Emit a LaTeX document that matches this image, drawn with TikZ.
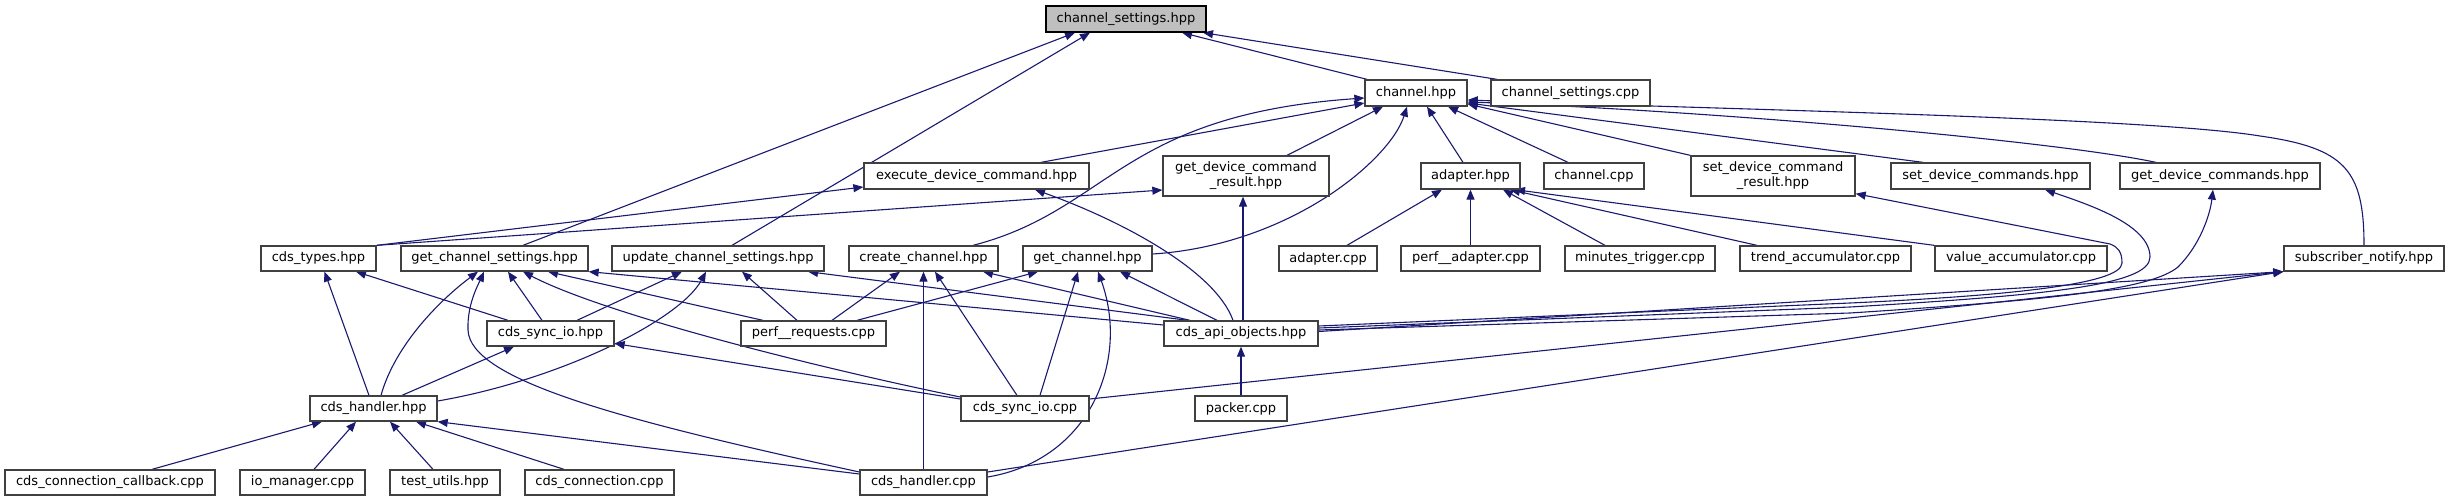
\documentclass[tikz,border=0pt]{standalone}
\usepackage{fontspec}
\setmainfont{DejaVu Sans}
\usetikzlibrary{arrows.meta}
\definecolor{edgeblue}{HTML}{191970}
\definecolor{boxgray}{HTML}{404040}
\definecolor{rootfill}{HTML}{BFBFBF}
\pgfdeclarelayer{bg}
\pgfsetlayers{bg,main}
\tikzset{
  box/.style={draw=boxgray, line width=1.3pt, fill=white, inner sep=0pt, align=center,
    font=\fontsize{13}{15}\selectfont},
  rootbox/.style={box, fill=rootfill, draw=black},
  edge/.style={draw=edgeblue, line width=1.1pt, -{Triangle[length=10pt,width=8pt]}}
}
\newcommand\mkbox[7][box]{\node[#1, minimum width={#5-#3}, minimum height={#6-#4}] (#2) at ({(#3+#5)/2},{(#4+#6)/2}) {#7};}
\begin{document}
\begin{tikzpicture}[x=1pt,y=-1pt]
\useasboundingbox (0,0) rectangle (2449,501);
% nodes
\mkbox[rootbox]{cs}{1046}{6}{1206}{32}{channel\_settings.hpp}
\mkbox{ch}{1365}{80}{1467}{106}{channel.hpp}
\mkbox{csc}{1491}{80}{1650}{106}{channel\_settings.cpp}
\mkbox{edc}{864}{163}{1089}{189}{execute\_device\_command.hpp}
\mkbox{gdcr}{1163}{156}{1329}{196}{get\_device\_command\\\_result.hpp}
\mkbox{ad}{1421}{163}{1520}{189}{adapter.hpp}
\mkbox{chc}{1544}{163}{1644}{189}{channel.cpp}
\mkbox{sdcr}{1691}{156}{1855}{196}{set\_device\_command\\\_result.hpp}
\mkbox{sdc}{1891}{163}{2090}{189}{set\_device\_commands.hpp}
\mkbox{gdc}{2120}{163}{2320}{189}{get\_device\_commands.hpp}
\mkbox{ct}{261}{246}{376}{271}{cds\_types.hpp}
\mkbox{gcs}{401}{246}{588}{271}{get\_channel\_settings.hpp}
\mkbox{ucs}{612}{246}{824}{271}{update\_channel\_settings.hpp}
\mkbox{cc}{849}{246}{998}{271}{create\_channel.hpp}
\mkbox{gc}{1023}{246}{1152}{271}{get\_channel.hpp}
\mkbox{adc}{1279}{246}{1377}{271}{adapter.cpp}
\mkbox{pad}{1401}{246}{1540}{271}{perf\_\_adapter.cpp}
\mkbox{mt}{1565}{246}{1715}{271}{minutes\_trigger.cpp}
\mkbox{ta}{1740}{246}{1911}{271}{trend\_accumulator.cpp}
\mkbox{va}{1935}{246}{2107}{271}{value\_accumulator.cpp}
\mkbox{sn}{2284}{246}{2444}{271}{subscriber\_notify.hpp}
\mkbox{csh}{487}{321}{614}{346}{cds\_sync\_io.hpp}
\mkbox{pr}{741}{321}{886}{346}{perf\_\_requests.cpp}
\mkbox{cao}{1164}{321}{1318}{346}{cds\_api\_objects.hpp}
\mkbox{chh}{310}{396}{437}{421}{cds\_handler.hpp}
\mkbox{csp}{961}{396}{1089}{421}{cds\_sync\_io.cpp}
\mkbox{pk}{1195}{396}{1287}{421}{packer.cpp}
\mkbox{ccb}{5}{470}{215}{495}{cds\_connection\_callback.cpp}
\mkbox{iom}{240}{470}{365}{495}{io\_manager.cpp}
\mkbox{tu}{390}{470}{500}{495}{test\_utils.hpp}
\mkbox{con}{525}{470}{674}{495}{cds\_connection.cpp}
\mkbox{chp}{860}{470}{987}{495}{cds\_handler.cpp}
\begin{pgfonlayer}{bg}
% edges to channel_settings.hpp
\draw[edge] ([xshift=28.5]gcs.north) -- ([xshift=-51]cs.south);
\draw[edge] ([xshift=14]ucs.north) -- ([xshift=-36]cs.south);
\draw[edge] ([xshift=-49]ch.north) -- ([xshift=56]cs.south);
\draw[edge] ([xshift=-73.5]csc.north) -- ([xshift=77]cs.south);
% edges to channel.hpp
\draw[edge] ([xshift=64.5]edc.north) -- ([yshift=-10]ch.west);
\draw[edge] ([xshift=49.5]cc.north) .. controls (1110,210) and (1120,115) .. ([yshift=-5]ch.west);
\draw[edge] ([xshift=41]gdcr.north) -- ([xshift=-33]ch.south);
\draw[edge] ([yshift=4.5]gc.east) .. controls (1290,245) and (1390,160) .. ([xshift=-9]ch.south);
\draw[edge] ([xshift=-7.5]ad.north) -- ([xshift=11]ch.south);
\draw[edge] ([xshift=-26]chc.north) -- ([xshift=32]ch.south);
\draw[edge] (sdcr.north west) -- ([yshift=-11]ch.east);
\draw[edge] ([xshift=-67.5]sdc.north) -- ([yshift=-10]ch.east);
\draw[edge] ([xshift=-64]gdc.north) .. controls (2050,140) and (1700,110) .. ([yshift=-9]ch.east);
\draw[edge] (sn.north) .. controls (2364,170) and (2345,148) .. (2260,136) .. controls (2150,118) and (1750,110) .. ([yshift=-7]ch.east);
% edges to execute / get_device_command_result
\draw[edge] (ct.north east) -- ([yshift=-11]edc.west);
\draw[edge] (ct.north east) -- ([yshift=-14]gdcr.west);
\draw[edge] ([xshift=-8]cao.north) .. controls (1215,270) and (1120,220) .. ([xshift=58.5]edc.south);
\draw[edge] ([xshift=2]cao.north) -- ([xshift=-3]gdcr.south);
% edges to adapter.hpp
\draw[edge] ([xshift=19]adc.north) -- ([xshift=-28.5]ad.south);
\draw[edge] (pad.north) -- (ad.south);
\draw[edge] ([xshift=-35]mt.north) -- ([xshift=32.5]ad.south);
\draw[edge] ([xshift=-68.5]ta.north) -- ([xshift=39.5]ad.south);
\draw[edge] (va.north west) -- ([xshift=44.5]ad.south);
% edges from cds_api_objects to the right
\draw[edge] ([yshift=7.5]cao.east) -- (1850,303) .. controls (2000,296) and (2122,285) .. (2122,263) .. controls (2122,252) and (2118,247) .. (2110,244) -- ([yshift=3]sdcr.south east);
\draw[edge] ([yshift=5.5]cao.east) -- (1850,307) .. controls (2050,295) and (2150,285) .. (2150,257) .. controls (2150,225) and (2090,205) .. ([xshift=54.5]sdc.south);
\draw[edge] ([yshift=3.5]cao.east) -- (1850,313) .. controls (2050,300) and (2150,290) .. (2178,267) .. controls (2200,245) and (2210,215) .. ([xshift=-7]gdc.south);
% edges to subscriber_notify
\draw[edge] ([yshift=2]cao.east) -- (sn.south west);
\draw[edge] ([yshift=9.5]csp.east) -- (sn.south west);
\draw[edge] ([yshift=10.5]chp.east) -- (sn.south west);
% edges to cds_types
\draw[edge] ([xshift=-42.5]csh.north) -- ([xshift=37.5]ct.south);
\draw[edge] ([xshift=-4.5]chh.north) -- ([xshift=6]ct.south);
% edges to get_channel_settings
\draw[edge] ([xshift=7.5]chh.north) .. controls (395,345) and (440,300) .. ([xshift=-16.5]gcs.south);
\draw[edge] ([yshift=10.5]chp.west) .. controls (620,420) and (470,380) .. (468,330) .. controls (467,305) and (478,285) .. ([xshift=-10.5]gcs.south);
\draw[edge] ([xshift=-8.5]csh.north) -- ([xshift=13.5]gcs.south);
\draw[edge] ([yshift=11.5]csp.west) .. controls (800,364) and (600,312) .. ([xshift=28.5]gcs.south);
\draw[edge] ([xshift=-50.5]pr.north) -- ([xshift=53.5]gcs.south);
\draw[edge] ([yshift=8.5]cao.west) -- (gcs.south east);
% edges to update_channel_settings
\draw[edge] ([xshift=26.5]csh.north) -- ([xshift=-36]ucs.south);
\draw[edge] ([yshift=7.5]chh.east) .. controls (560,380) and (680,320) .. ([xshift=-12]ucs.south);
\draw[edge] ([xshift=-16.5]pr.north) -- ([xshift=24]ucs.south);
\draw[edge] ([xshift=-53]cao.north) -- ([xshift=90]ucs.south);
% edges to create_channel
\draw[edge] ([xshift=18.5]pr.north) -- ([xshift=-23.5]cc.south);
\draw[edge] (chp.north) -- (cc.south);
\draw[edge] ([xshift=-8]csp.north) -- ([xshift=11.5]cc.south);
\draw[edge] ([xshift=-51]cao.north) -- ([xshift=59.5]cc.south);
% edges to get_channel
\draw[edge] ([xshift=43.5]pr.north) -- ([xshift=-49.5]gc.south);
\draw[edge] ([xshift=15]csp.north) -- ([xshift=-9.5]gc.south);
\draw[edge] ([yshift=5.5]chp.east) .. controls (1090,460) and (1130,360) .. ([xshift=10.5]gc.south);
\draw[edge] ([xshift=-24]cao.north) -- ([xshift=32.5]gc.south);
% edges to cds_sync_io.hpp
\draw[edge] ([xshift=28.5]chh.north) -- ([xshift=-36.5]csh.south);
\draw[edge] ([yshift=9.5]csp.west) -- ([yshift=-10]csh.east);
% packer
\draw[edge] (pk.north) -- (cao.south);
% edges to cds_handler.hpp
\draw[edge] ([xshift=42]ccb.north) -- ([xshift=-51.5]chh.south);
\draw[edge] ([xshift=11.5]iom.north) -- ([xshift=-17.5]chh.south);
\draw[edge] ([xshift=-12]tu.north) -- ([xshift=16.5]chh.south);
\draw[edge] ([xshift=-35.5]con.north) -- ([xshift=42.5]chh.south);
\draw[edge] ([yshift=8.5]chp.west) -- (chh.south east);
\end{pgfonlayer}
\end{tikzpicture}
\end{document}
